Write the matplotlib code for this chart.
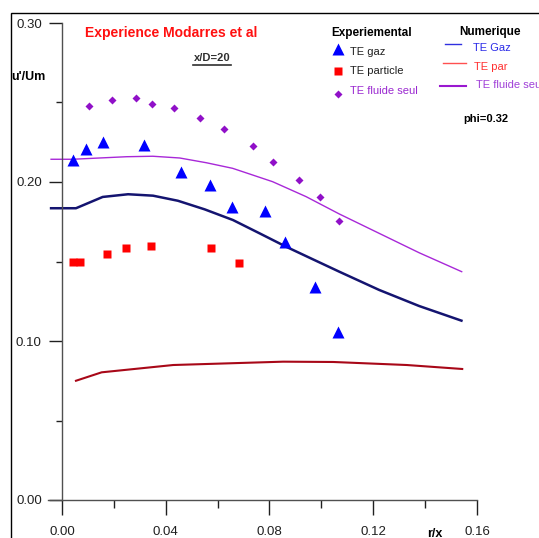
import matplotlib
matplotlib.use("Agg")
import matplotlib.pyplot as plt
from matplotlib.lines import Line2D
from matplotlib.patches import Rectangle
from matplotlib.ticker import MultipleLocator

plt.rcParams['font.family'] = ['Liberation Sans', 'DejaVu Sans']

# experimental points
gaz_x = [0.0041, 0.0093, 0.0157, 0.0315, 0.0460, 0.0572, 0.0655, 0.0781, 0.0858, 0.0977, 0.1063]
gaz_y = [0.2138, 0.2209, 0.2253, 0.2233, 0.2061, 0.1981, 0.1841, 0.1818, 0.1625, 0.1342, 0.1057]

part_x = [0.0041, 0.0069, 0.0172, 0.0246, 0.0343, 0.0574, 0.0681]
part_y = [0.1499, 0.1499, 0.1547, 0.1587, 0.1597, 0.1585, 0.1489]

fluide_x = [0.0103, 0.0194, 0.0285, 0.0347, 0.0432, 0.0533, 0.0623, 0.0735, 0.0815, 0.0915, 0.0993, 0.1069]
fluide_y = [0.2478, 0.2518, 0.2528, 0.2492, 0.2464, 0.2401, 0.2332, 0.2228, 0.2126, 0.2011, 0.1903, 0.1755]

# numerical profiles
num_gaz_x = [-0.0042, 0.0054, 0.0157, 0.0255, 0.0351, 0.0447, 0.0550, 0.0659, 0.0762, 0.0864, 0.0967, 0.1069, 0.1223, 0.1377, 0.1540]
num_gaz_y = [0.1835, 0.1835, 0.1906, 0.1923, 0.1914, 0.1882, 0.1828, 0.1761, 0.1677, 0.1593, 0.1514, 0.1436, 0.1321, 0.1220, 0.1128]

num_fluide_x = [-0.0042, 0.0041, 0.0249, 0.0350, 0.0454, 0.0557, 0.0658, 0.0812, 0.0941, 0.1069, 0.1223, 0.1377, 0.1541]
num_fluide_y = [0.2143, 0.2143, 0.2159, 0.2162, 0.2151, 0.2121, 0.2086, 0.2002, 0.1908, 0.1799, 0.1677, 0.1555, 0.1436]

num_par_x = [0.0054, 0.0153, 0.0429, 0.0853, 0.1046, 0.1329, 0.1543]
num_par_y = [0.0750, 0.0803, 0.0849, 0.0870, 0.0868, 0.0849, 0.0824]

W, H = 539, 538
fig = plt.figure(figsize=(W / 100, H / 100), dpi=100)


def fx(x):
    return x / W


def fy(y):
    return 1 - y / H


ax = fig.add_axes([fx(47.7), fy(500), fx(477) - fx(47.7), fy(23) - fy(500)])
ax.set_xlim(-0.0055, 0.16)
ax.set_ylim(0, 0.30)

ax.plot(num_gaz_x, num_gaz_y, color='#141470', lw=1.8)
ax.plot(num_fluide_x, num_fluide_y, color='#a828d8', lw=1.0)
ax.plot(num_par_x, num_par_y, color='#a80818', lw=1.5)

ax.plot(gaz_x, gaz_y, '^', color='#0000ff', ms=8, mec='none')
ax.plot(part_x, part_y, 's', color='#ff0000', ms=6, mec='none')
ax.plot(fluide_x, fluide_y, 'D', color='#9010c8', ms=4.5, mec='none')

for s in ['top', 'right']:
    ax.spines[s].set_visible(False)
ax.spines['left'].set_position(('data', 0))
ax.spines['left'].set_bounds(0, 0.30)
for s in ['left', 'bottom']:
    ax.spines[s].set_color('#505050')
    ax.spines[s].set_linewidth(1.0)

ax.xaxis.set_major_locator(MultipleLocator(0.04))
ax.xaxis.set_minor_locator(MultipleLocator(0.02))
ax.yaxis.set_major_locator(MultipleLocator(0.10))
ax.yaxis.set_minor_locator(MultipleLocator(0.05))
ax.set_xticks([0, 0.04, 0.08, 0.12, 0.16])
ax.set_xticklabels(['0.00', '0.04', '0.08', '0.12', '0.16'])
ax.set_yticks([0, 0.10, 0.20, 0.30])
ax.set_yticklabels(['0.00', '0.10', '0.20', '0.30'])
ax.tick_params(axis='x', which='major', direction='out', length=11, width=1, color='#202020',
               labelsize=9.5, pad=8, labelcolor='#202020')
ax.tick_params(axis='x', which='minor', direction='out', length=6, width=1, color='#202020')
ax.tick_params(axis='y', which='major', direction='out', length=9.5, width=1, color='#202020',
               labelsize=9.5, pad=5, labelcolor='#202020')
ax.tick_params(axis='y', which='minor', direction='out', length=4, width=1, color='#202020')

# outer frame
fig.patches.append(Rectangle((fx(10.5), -0.1), 1.2, fy(13.3) + 0.1, transform=fig.transFigure,
                             fill=False, ec='black', lw=1.0))

fig.text(fx(11), fy(77), "u'/Um", fontsize=9, fontweight='bold', va='center', ha='left')
fig.text(fx(435), fy(534), "r/x", fontsize=9, fontweight='bold', va='center', ha='center')

fig.text(fx(85), fy(33), "Experience Modarres et al", fontsize=10, fontweight='bold',
         color='#ff1010', va='center', ha='left')
fig.text(fx(212), fy(58.3), "x/D=20", fontsize=8, fontweight='bold', color='#303030',
         va='center', ha='center')
fig.add_artist(Line2D([fx(193), fx(231)], [fy(64.5), fy(64.5)], color='#303030', lw=1.2))

# experimental legend
fig.text(fx(331.7), fy(33.3), "Experiemental", fontsize=8.5, fontweight='bold', va='center', ha='left')
fig.add_artist(Line2D([fx(337.7)], [fy(49)], marker='^', color='#0000ff', ms=8, mec='none', ls='none'))
fig.text(fx(350), fy(52), "TE gaz", fontsize=8, color='#202020', va='center', ha='left')
fig.add_artist(Line2D([fx(337.7)], [fy(71)], marker='s', color='#ff0000', ms=6, mec='none', ls='none'))
fig.text(fx(350), fy(71), "TE particle", fontsize=8, color='#202020', va='center', ha='left')
fig.add_artist(Line2D([fx(337.7)], [fy(94.3)], marker='D', color='#9010c8', ms=4.5, mec='none', ls='none'))
fig.text(fx(350), fy(90.5), "TE fluide seul", fontsize=8, color='#9a28d0', va='center', ha='left')

# numerical legend
fig.text(fx(459.3), fy(31.7), "Numerique", fontsize=8.5, fontweight='bold', va='center', ha='left')
fig.add_artist(Line2D([fx(445), fx(460.7)], [fy(44.3), fy(44.3)], color='#3030e0', lw=1.0))
fig.text(fx(472.7), fy(47.7), "TE Gaz", fontsize=8, color='#2a2ae8', va='center', ha='left')
fig.add_artist(Line2D([fx(443.3), fx(465.7)], [fy(63.3), fy(63.3)], color='#ff5050', lw=1.0))
fig.text(fx(474.3), fy(66.7), "TE par", fontsize=8, color='#ff3030', va='center', ha='left')
fig.add_artist(Line2D([fx(440), fx(466)], [fy(86), fy(86)], color='#9a18d0', lw=1.5))
fig.text(fx(475.7), fy(85), "TE fluide seul", fontsize=8, color='#a040d8', va='center', ha='left')

fig.text(fx(463.3), fy(119), "phi=0.32", fontsize=8, fontweight='bold', va='center', ha='left')

fig.savefig("out.png", dpi=100)
